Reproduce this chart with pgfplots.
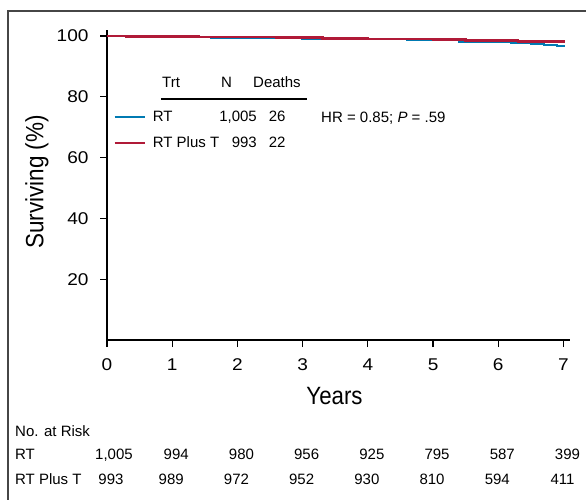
\documentclass[border=0pt]{standalone}
\usepackage{pgfplots}
\pgfplotsset{compat=1.18}
\usepackage{fontspec}
\setmainfont{Liberation Sans}
\definecolor{rtblue}{RGB}{0,122,178}
\definecolor{rtred}{RGB}{176,26,56}
\definecolor{framegray}{RGB}{70,70,70}
\newcommand{\tabfont}{\fontsize{15bp}{18bp}\selectfont}
\tikzset{tl/.style={anchor=base west, inner sep=0pt, font=\tabfont},
         tc/.style={anchor=base, inner sep=0pt, font=\tabfont}}
\begin{document}
\begin{tikzpicture}
\useasboundingbox (0bp,0bp) rectangle (586bp,-500bp);
\draw[framegray, line width=1.6bp] (8bp,-500bp) -- (8bp,-11bp) -- (586bp,-11bp);
\begin{axis}[
  at={(107bp,-340bp)}, anchor=south west,
  scale only axis, width=463bp, height=310bp,
  xmin=0, xmax=7.1, ymin=0, ymax=102,
  axis lines=left, axis line style={-, line width=1.3bp},
  xtick={0,1,2,3,4,5,6,7}, ytick={20,40,60,80,100},
  tick align=outside, major tick length=7bp,
  tick style={line width=1.2bp, black},
  ticklabel style={font=\fontsize{17bp}{20bp}\selectfont},
  xticklabel={\scalebox{1.12}[1]{\pgfmathprintnumber{\tick}}},
  yticklabel={\scalebox{1.12}[1]{\pgfmathprintnumber{\tick}}},
  xticklabel style={yshift=-8bp},
  yticklabel style={xshift=-8bp},
  /pgf/number format/assume math mode=true,
  xlabel={\fontsize{25bp}{30bp}\selectfont\scalebox{0.89}[1]{Years}},
  ylabel={\fontsize{25bp}{30bp}\selectfont\scalebox{0.9}[1]{Surviving (\%)}},
  xlabel style={at={(axis description cs:0.5,0)}, anchor=center, yshift=-56bp, xshift=-4bp},
  ylabel style={at={(axis description cs:0,0.51)}, anchor=center, yshift=70bp},
  clip=false,
  legend style={draw=none, fill=none, at={(axis cs:0.092,75.7)}, anchor=north west,
    inner sep=0pt, row sep=12bp, font=\tabfont,
    nodes={inner sep=0pt, text height=11bp, text depth=3bp},
    /tikz/every odd column/.append style={column sep=7bp}},
  legend cell align=left,
  legend image code/.code={\draw[#1, line width=2.6bp] (0bp,0bp) -- (30bp,0bp);},
]
\addplot[const plot, rtblue, line width=2.6bp] coordinates {
(0,100) (0.5,99.9) (1.0,99.75) (1.6,99.6) (2.0,99.5) (2.5,99.4) (3.0,99.3)
(3.4,99.1) (4.0,99.0) (4.6,98.9) (5.0,98.7) (5.4,98.3) (5.8,98.05) (6.2,97.7)
(6.5,97.4) (6.7,97.1) (6.9,96.8) (7.0,96.7)};
\addlegendentry{\makebox[104bp][l]{RT\hfill 1,005}\hspace{12bp}26}
\addplot[const plot, rtred, line width=2.6bp] coordinates {
(0,100) (0.3,99.9) (0.8,99.85) (1.4,99.75) (2.0,99.65) (2.6,99.55) (3.0,99.45)
(3.3,99.25) (4.0,99.1) (4.5,99.0) (5.0,98.85) (5.5,98.6) (5.8,98.45) (6.3,98.3)
(6.8,98.2) (7.0,98.1)};
\addlegendentry{\makebox[104bp][l]{RT Plus T\hfill 993}\hspace{12bp}22}
% table header
\node[tl] at (axis cs:0.844,83.24) {Trt};
\node[tl] at (axis cs:1.748,83.24) {N};
\node[tl] at (axis cs:2.239,83.24) {Deaths};
\draw[black, line width=1.4bp] (axis cs:0.828,79.3) -- (axis cs:3.067,79.3);
\node[tl] at (axis cs:3.282,71.73) {HR = 0.85; \textit{P} = .59};
% number at risk
\node[tl] at (axis cs:-1.411,-31.9) {No. at Risk};
\node[tl] at (axis cs:-1.411,-39.16) {RT};
\node[tl] at (axis cs:-1.411,-47.4) {RT Plus T};
\node[tc, xshift=7bp] at (axis cs:0,-39.16) {1,005};
\node[tc, xshift=4bp] at (axis cs:1,-39.16) {994};
\node[tc, xshift=4bp] at (axis cs:2,-39.16) {980};
\node[tc, xshift=4bp] at (axis cs:3,-39.16) {956};
\node[tc, xshift=4bp] at (axis cs:4,-39.16) {925};
\node[tc, xshift=4bp] at (axis cs:5,-39.16) {795};
\node[tc, xshift=4bp] at (axis cs:6,-39.16) {587};
\node[tc, xshift=4bp] at (axis cs:7,-39.16) {399};
\node[tc, xshift=4bp] at (axis cs:0,-47.4) {993};
\node[tc, xshift=-1bp] at (axis cs:1,-47.4) {989};
\node[tc, xshift=-1bp] at (axis cs:2,-47.4) {972};
\node[tc, xshift=-1bp] at (axis cs:3,-47.4) {952};
\node[tc, xshift=-1bp] at (axis cs:4,-47.4) {930};
\node[tc, xshift=-1bp] at (axis cs:5,-47.4) {810};
\node[tc, xshift=-1bp] at (axis cs:6,-47.4) {594};
\node[tc, xshift=-1bp] at (axis cs:7,-47.4) {411};
\end{axis}
\end{tikzpicture}
\end{document}
